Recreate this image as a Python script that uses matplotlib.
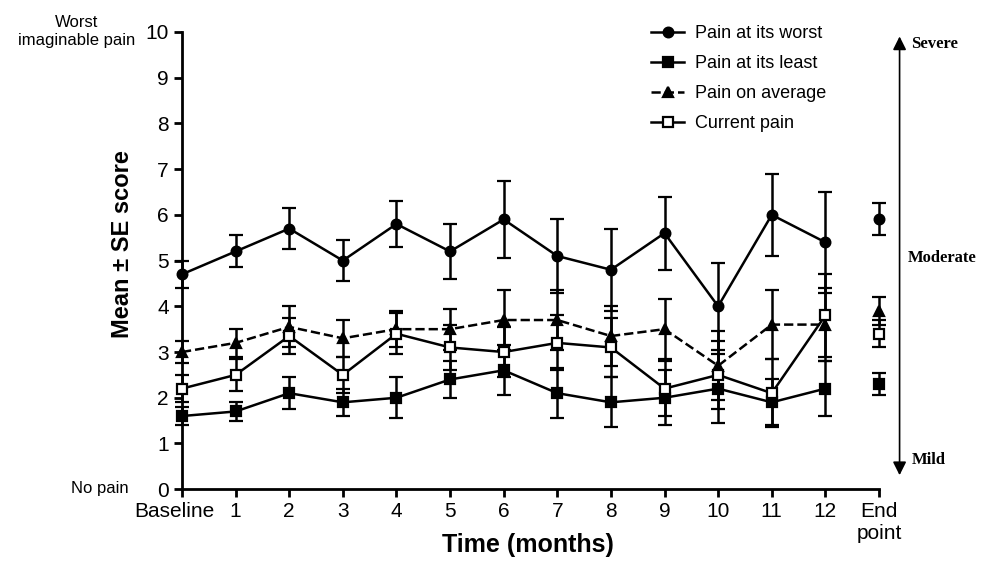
import numpy as np
import matplotlib
matplotlib.use("Agg")
import matplotlib.pyplot as plt
from matplotlib.lines import Line2D
from matplotlib.patches import FancyArrowPatch
from matplotlib.transforms import ScaledTranslation

plt.rcParams['font.family'] = ['Liberation Sans', 'DejaVu Sans']

months = np.arange(13)
end_x = 13
tick_labels = ['Baseline'] + [str(m) for m in range(1, 13)] + ['End\npoint']

worst = [4.7, 5.2, 5.7, 5.0, 5.8, 5.2, 5.9, 5.1, 4.8, 5.6, 4.0, 6.0, 5.4]
worst_se = [0.3, 0.35, 0.45, 0.45, 0.5, 0.6, 0.85, 0.8, 0.9, 0.8, 0.95, 0.9, 1.1]
worst_end, worst_end_se = 5.9, 0.35

least = [1.6, 1.7, 2.1, 1.9, 2.0, 2.4, 2.6, 2.1, 1.9, 2.0, 2.2, 1.9, 2.2]
least_se = [0.2, 0.2, 0.35, 0.3, 0.45, 0.4, 0.55, 0.55, 0.55, 0.6, 0.75, 0.5, 0.6]
least_end, least_end_se = 2.3, 0.25

average = [3.0, 3.2, 3.55, 3.3, 3.5, 3.5, 3.7, 3.7, 3.35, 3.5, 2.7, 3.6, 3.6]
average_se = [0.25, 0.3, 0.45, 0.4, 0.4, 0.45, 0.65, 0.65, 0.65, 0.65, 0.75, 0.75, 0.8]
average_end, average_end_se = 3.9, 0.3

current = [2.2, 2.5, 3.35, 2.5, 3.4, 3.1, 3.0, 3.2, 3.1, 2.2, 2.5, 2.1, 3.8]
current_se = [0.3, 0.35, 0.4, 0.4, 0.45, 0.5, 0.55, 0.6, 0.65, 0.6, 0.75, 0.75, 0.9]
current_end, current_end_se = 3.4, 0.3

series = [
    ('Pain at its worst', worst, worst_se, worst_end, worst_end_se, 'o', 'black', '-'),
    ('Pain at its least', least, least_se, least_end, least_end_se, 's', 'black', '-'),
    ('Pain on average', average, average_se, average_end, average_end_se, '^', 'black', '--'),
    ('Current pain', current, current_se, current_end, current_end_se, 's', 'white', '-'),
]

fig = plt.figure(figsize=(9.81, 5.61), dpi=100)
ax = fig.add_axes([0.1855, 0.128, 0.7105, 0.815])

handles = []
for i, (name, vals, se, ev, ese, mk, fc, ls) in enumerate(series):
    ax.errorbar(months, vals, yerr=se, fmt=mk, linestyle=ls, color='black',
                mfc=fc, mec='black', ms=7, mew=1.6, lw=1.8, elinewidth=1.8,
                capsize=5, capthick=1.8, clip_on=False, zorder=3 + i)
    ax.errorbar([end_x], [ev], yerr=[ese], fmt=mk, color='black', mfc=fc,
                mec='black', ms=7, mew=1.6, elinewidth=1.8, capsize=5,
                capthick=1.8, clip_on=False, zorder=3 + i)
    handles.append(Line2D([], [], color='black', ls=ls, lw=1.8, marker=mk,
                          mfc=fc, mec='black', ms=7, mew=1.6, label=name))

ax.set_xlim(0, 13)
ax.set_ylim(0, 10)
ax.set_xticks(list(months) + [end_x])
ax.set_xticklabels(tick_labels, fontsize=15, linespacing=1.2)
ax.set_yticks(range(11))
ax.tick_params(axis='y', labelsize=15, length=6, width=2, direction='out')
ax.tick_params(axis='x', length=6, width=2, direction='out')
for s in ['top', 'right']:
    ax.spines[s].set_visible(False)
for s in ['left', 'bottom']:
    ax.spines[s].set_linewidth(2)

base_lbl = ax.get_xticklabels()[0]
base_lbl.set_transform(base_lbl.get_transform() +
                       ScaledTranslation(-0.08, 0, fig.dpi_scale_trans))

ax.set_ylabel('Mean \u00b1 SE score', fontsize=17, fontweight='bold', va='center')
ax.yaxis.set_label_coords(-0.085, 0.536)
ax.set_xlabel('Time (months)', fontsize=18, fontweight='bold', va='center')
ax.xaxis.set_label_coords(0.496, -0.122)

fig.text(0.078, 0.943, 'Worst\nimaginable pain', fontsize=12, ha='center',
         va='center', linespacing=1.25)
fig.text(0.102, 0.13, 'No pain', fontsize=12, ha='center', va='center')

ax.legend(handles=handles, loc='upper left', bbox_to_anchor=(0.65, 1.05),
          frameon=False, fontsize=13, handlelength=1.8, labelspacing=0.72,
          handletextpad=0.6)

# severity arrow on the right
fig.patches.append(FancyArrowPatch(
    (0.917, 0.148), (0.917, 0.94), transform=fig.transFigure,
    arrowstyle='<|-|>', mutation_scale=20, lw=1.2, color='black'))
fig.text(0.929, 0.921, 'Severe', family='Liberation Serif', fontweight='bold',
         fontsize=12, va='center')
fig.text(0.925, 0.54, 'Moderate', family='Liberation Serif', fontweight='bold',
         fontsize=12, va='center')
fig.text(0.929, 0.18, 'Mild', family='Liberation Serif', fontweight='bold',
         fontsize=12, va='center')

fig.savefig('out.png', dpi=100)
